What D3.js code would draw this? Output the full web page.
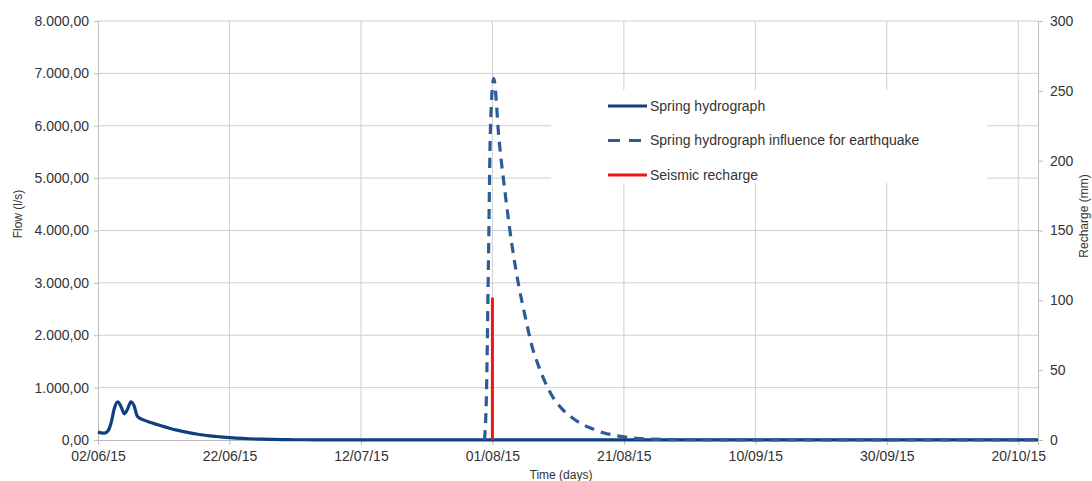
<!DOCTYPE html>
<html>
<head>
<meta charset="utf-8">
<script src="https://cdn.jsdelivr.net/npm/d3@7"></script>
<style>
  body { margin: 0; background: #fff; }
  svg text { font-family: "Liberation Sans", Arial, sans-serif; fill: #333; }
</style>
</head>
<body>
<svg id="chart" width="1092" height="481"></svg>
<script>
// start date of the record, x values are days after it
const START = new Date(2015, 5, 2);
const END_DAY = 143;

// spring hydrograph (l/s)
const springDays = [0, 0.5, 1, 1.5, 2, 2.5, 3, 3.5, 4, 4.5, 5, 5.5, 6, 7, 8, 9, 10, 11, 12, 13, 14, 15, 16, 17, 18, 19, 20, 21, 22, 23, 24, 25, 26, 28, 30, 33, 36, 40, 50, 60, 80, 100, 120, 143];
const springFlow = [150, 135, 130, 170, 330, 610, 730, 640, 500, 590, 730, 650, 450, 380, 335, 295, 255, 220, 188, 160, 136, 114, 96, 80, 67, 55, 45, 37, 30, 24, 19, 15, 12, 8, 5, 4, 3, 2, 2, 2, 2, 2, 2, 2];

// spring hydrograph influenced by the earthquake (l/s)
const quakeDays = [58.8, 59.1, 59.4, 59.7, 60.2, 61, 62, 63, 64, 65, 66, 67, 68, 69, 70, 71, 72, 73, 74, 75, 76, 77, 78, 79, 80, 81, 82, 84, 86, 90, 100, 143];
const quakeFlow = [0, 900, 3400, 5950, 6900, 5750, 4650, 3700, 2950, 2350, 1800, 1420, 1110, 860, 680, 540, 440, 350, 280, 225, 175, 135, 105, 80, 60, 45, 32, 18, 10, 5, 3, 2];

// seismic recharge (mm)
const rechargeDays = [60];
const rechargeMm = [102];

const flowTicks = [0, 1000, 2000, 3000, 4000, 5000, 6000, 7000, 8000];
const rechargeTicks = [0, 50, 100, 150, 200, 250, 300];
const dateTicks = ["2015-06-02", "2015-06-22", "2015-07-12", "2015-08-01", "2015-08-21", "2015-09-10", "2015-09-30", "2015-10-20"];

const legendLabels = ["Spring hydrograph", "Spring hydrograph influence for earthquake", "Seismic recharge"];

const SOLID = "#0e3f80", DASH = "#2c5c98", RED = "#f01414", GRID = "#cfcfcf";

// fractional days after the start date
const day = d => new Date(START.getTime() + d * 864e5);
const mLeft = 98, mRight = 1038, mTop = 21, mBottom = 440;

const svg = d3.select("#chart");
const x = d3.scaleTime().domain([START, day(END_DAY)]).range([mLeft, mRight]);
const y = d3.scaleLinear().domain([0, 8000]).range([mBottom, mTop]);
const y2 = d3.scaleLinear().domain([0, 300]).range([mBottom, mTop]);

const loc = d3.formatLocale({decimal: ",", thousands: ".", grouping: [3], currency: ["", ""]});
const fmt = loc.format(",.2f");
const parse = d3.timeParse("%Y-%m-%d");

// grid
svg.append("g").selectAll("line").data(flowTicks.slice(1)).join("line")
  .attr("x1", mLeft).attr("x2", mRight)
  .attr("y1", d => y(d)).attr("y2", d => y(d))
  .attr("stroke", GRID);
svg.append("g").selectAll("line").data(dateTicks.slice(1)).join("line")
  .attr("x1", d => x(parse(d))).attr("x2", d => x(parse(d)))
  .attr("y1", mTop).attr("y2", mBottom)
  .attr("stroke", GRID);

// axes
const gx = svg.append("g").attr("transform", `translate(0,${mBottom})`)
  .call(d3.axisBottom(x).tickValues(dateTicks.map(parse)).tickFormat(d3.timeFormat("%d/%m/%y")).tickSize(5).tickPadding(6));
const gy = svg.append("g").attr("transform", `translate(${mLeft},0)`)
  .call(d3.axisLeft(y).tickValues(flowTicks).tickFormat(fmt).tickSize(4).tickPadding(5));
const gy2 = svg.append("g").attr("transform", `translate(${mRight},0)`)
  .call(d3.axisRight(y2).tickValues(rechargeTicks).tickSize(5).tickPadding(7));
[gx, gy, gy2].forEach(g => {
  g.select(".domain").attr("stroke", "#bbb");
  g.selectAll(".tick line").attr("stroke", "#bbb");
  g.selectAll("text").style("font-size", "14px").attr("fill", "#2a2a2a");
});

// legend box hides the grid behind it
svg.append("rect").attr("x", 551).attr("y", 90).attr("width", 436).attr("height", 93).attr("fill", "#fff");

// series
const line = d3.line().x(d => x(day(d[0]))).y(d => y(d[1])).curve(d3.curveMonotoneX);
svg.append("path").datum(springDays.map((d, i) => [d, springFlow[i]]))
  .attr("d", line).attr("fill", "none").attr("stroke", SOLID).attr("stroke-width", 3.2);
svg.append("path").datum(quakeDays.map((d, i) => [d, quakeFlow[i]]))
  .attr("d", line).attr("fill", "none").attr("stroke", DASH).attr("stroke-width", 3.2)
  .attr("stroke-dasharray", "10,7");
svg.append("g").selectAll("line").data(rechargeDays).join("line")
  .attr("x1", d => x(day(d))).attr("x2", d => x(day(d)))
  .attr("y1", y2(0)).attr("y2", (d, i) => y2(rechargeMm[i]))
  .attr("stroke", RED).attr("stroke-width", 3);

// legend
const lg = svg.append("g").selectAll("g").data(legendLabels).join("g")
  .attr("transform", (d, i) => `translate(608,${106 + i * 34.5})`);
lg.append("line").attr("x1", 0).attr("x2", 39)
  .attr("stroke", (d, i) => [SOLID, DASH, RED][i]).attr("stroke-width", 3)
  .attr("stroke-dasharray", (d, i) => i === 1 ? "12,9" : null);
lg.append("text").attr("x", 42).attr("dy", "0.35em").style("font-size", "14px").attr("fill", "#2a2a2a").text(d => d);

// titles
svg.append("text").attr("transform", "translate(22,214) rotate(-90)").attr("text-anchor", "middle")
  .style("font-size", "12px").text("Flow (l/s)");
svg.append("text").attr("transform", "translate(1088,216) rotate(-90)").attr("text-anchor", "middle")
  .style("font-size", "12px").text("Recharge (mm)");
svg.append("text").attr("x", 561).attr("y", 479).attr("text-anchor", "middle")
  .style("font-size", "12px").text("Time (days)");
</script>
</body>
</html>
